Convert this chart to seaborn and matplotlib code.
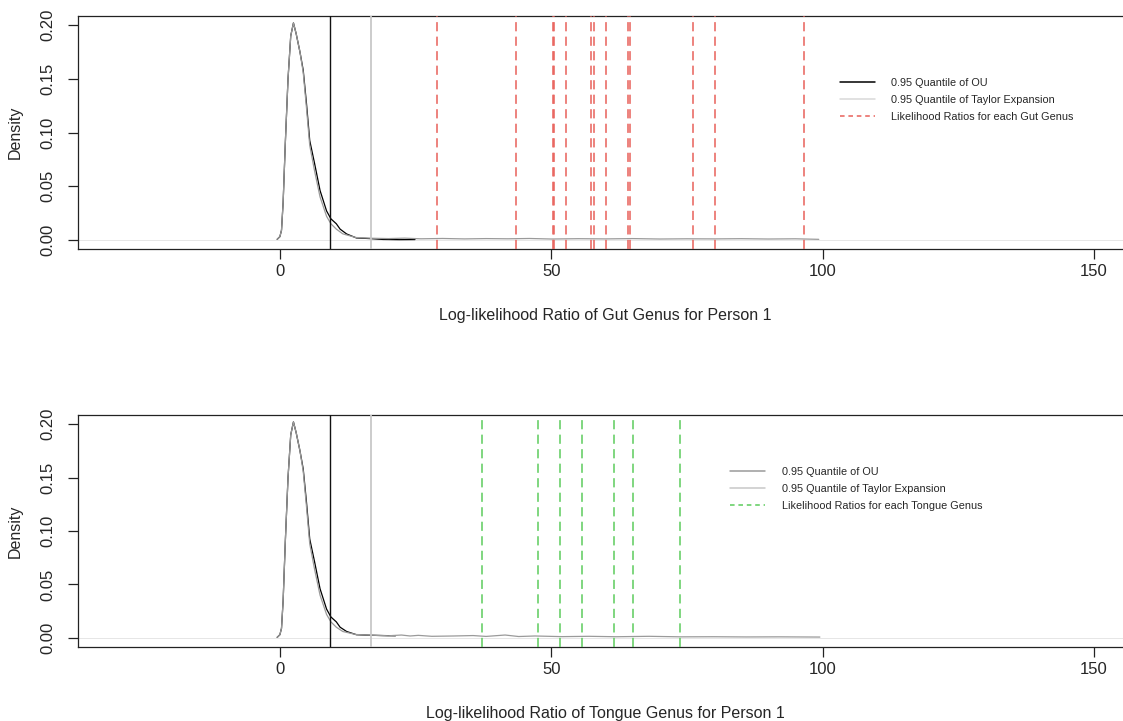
import matplotlib
matplotlib.use("Agg")
import matplotlib.pyplot as plt
import seaborn as sns
import pandas as pd
from matplotlib.lines import Line2D

sns.set_style("ticks")
plt.rcParams["font.family"] = ["Liberation Sans", "DejaVu Sans"]

# ---- density curves of the simulated log-likelihood ratio ----
# OU density (top panel)
ou_x_gut = [-0.5, 0.0, 0.3, 0.6, 1.0, 1.5, 2.0, 2.5, 3.0, 3.7, 4.3, 4.9, 5.5,
            6.4, 7.4, 8.6, 9.4, 10.4, 11.1, 12.3, 14.1, 16.6, 19.0, 22.0, 24.9]
ou_d_gut = [0.0005, 0.003, 0.009, 0.035, 0.090, 0.150, 0.190, 0.202, 0.192,
            0.175, 0.158, 0.127, 0.0925, 0.071, 0.046, 0.027, 0.0196, 0.015,
            0.010, 0.0055, 0.0018, 0.0012, 0.0004, 0.0002, 0.0003]
# Taylor-expansion density (top panel)
ty_x_gut = [-0.5, 0.0, 0.3, 0.6, 1.0, 1.5, 2.0, 2.5, 3.0, 3.7, 4.3, 4.9, 5.5,
            6.4, 7.4, 8.6, 9.4, 10.4, 11.6, 14.0, 17.0, 20.0, 23.0, 26.0,
            30.0, 34.0, 38.0, 42.0, 46.0, 50.0, 55.0, 60.0, 65.0, 70.0, 75.0,
            80.0, 85.0, 90.0, 95.0, 99.3]
ty_d_gut = [0.0005, 0.003, 0.009, 0.035, 0.090, 0.150, 0.190, 0.202, 0.192,
            0.175, 0.156, 0.123, 0.088, 0.064, 0.040, 0.022, 0.015, 0.010,
            0.0056, 0.0022, 0.0015, 0.0012, 0.0016, 0.0010, 0.0013, 0.0009,
            0.0012, 0.0010, 0.0013, 0.0008, 0.0011, 0.0009, 0.0012, 0.0008,
            0.0010, 0.0009, 0.0011, 0.0008, 0.0010, 0.0005]

# OU density (bottom panel)
ou_x_tng = [-0.5, 0.0, 0.3, 0.6, 1.0, 1.5, 2.0, 2.5, 3.0, 3.7, 4.3, 4.9, 5.5,
            6.4, 7.4, 8.6, 9.4, 10.4, 11.1, 12.3, 14.1, 16.6, 19.0, 21.3]
ou_d_tng = [0.0005, 0.003, 0.009, 0.035, 0.090, 0.150, 0.190, 0.202, 0.192,
            0.175, 0.158, 0.127, 0.0925, 0.071, 0.046, 0.027, 0.0196, 0.015,
            0.010, 0.0060, 0.0030, 0.0025, 0.0022, 0.0020]
# Taylor-expansion density (bottom panel)
ty_x_tng = [-0.5, 0.0, 0.3, 0.6, 1.0, 1.5, 2.0, 2.5, 3.0, 3.7, 4.3, 4.9, 5.5,
            6.4, 7.4, 8.6, 9.4, 10.4, 11.6, 14.0, 17.0, 20.0, 22.4, 24.0,
            25.5, 28.0, 32.0, 35.6, 38.0, 41.5, 44.0, 47.0, 52.0, 57.0, 62.0,
            68.0, 74.0, 80.0, 86.0, 92.0, 99.5]
ty_d_tng = [0.0005, 0.003, 0.009, 0.035, 0.090, 0.150, 0.190, 0.202, 0.192,
            0.175, 0.156, 0.123, 0.088, 0.064, 0.040, 0.022, 0.015, 0.010,
            0.0060, 0.0032, 0.0025, 0.0020, 0.0027, 0.0018, 0.0024, 0.0015,
            0.0018, 0.0022, 0.0014, 0.0027, 0.0013, 0.0018, 0.0012, 0.0015,
            0.0011, 0.0015, 0.0010, 0.0011, 0.0009, 0.0010, 0.0008]

# ---- quantiles and observed likelihood ratios ----
ou_quantile = 9.2
taylor_quantile = 16.8
gut_ratios = [28.9, 43.5, 50.3, 50.6, 52.7, 57.3, 57.8, 60.0, 64.1, 64.6,
              76.1, 80.1, 96.5]
tongue_ratios = [37.3, 47.6, 51.7, 55.6, 61.6, 65.1, 73.7]

x_ticks = [0, 50, 100, 150]
y_ticks = [0.00, 0.05, 0.10, 0.15, 0.20]
y_tick_labels = ["0.00", "0.05", "0.10", "0.15", "0.20"]

W, H = 1123, 721
fig = plt.figure(figsize=(W / 100, H / 100), dpi=100)


def axes_px(left, top, right, bottom):
    return fig.add_axes([left / W, 1 - bottom / H, (right - left) / W,
                         (bottom - top) / H])


def draw_panel(ax, ou_x, ou_d, ty_x, ty_d, ratios, ratio_color, xlabel,
               legend_labels, legend_colors, legend_anchor, textpad):
    ax.axhline(0, color="#e2e2e2", lw=0.6, zorder=1)
    sns.lineplot(data=pd.DataFrame({"x": ty_x, "d": ty_d}), x="x", y="d",
                 ax=ax, color="#9a9a9a", lw=0.9, sort=False, estimator=None,
                 zorder=3)
    sns.lineplot(data=pd.DataFrame({"x": ou_x, "d": ou_d}), x="x", y="d",
                 ax=ax, color="black", lw=0.9, sort=False, estimator=None,
                 zorder=2)
    ax.axvline(ou_quantile, color="#111111", lw=1.0, zorder=4)
    ax.axvline(taylor_quantile, color="#c8c8c8", lw=1.3, zorder=4)
    for r in ratios:
        ax.axvline(r, color=ratio_color, lw=1.1, ls=(0, (6, 3.5)), zorder=4)

    ax.set_xlim(-37.2, 157.2)
    ax.set_ylim(-0.0085, 0.2085)
    ax.set_xticks(x_ticks)
    ax.set_xticklabels([str(t) for t in x_ticks], fontsize=12)
    ax.set_yticks(y_ticks)
    ax.set_yticklabels(y_tick_labels, fontsize=12, rotation=90, va="center")
    ax.tick_params(axis="x", direction="out", length=7, width=0.9,
                   color="#222222", pad=4)
    ax.tick_params(axis="y", direction="out", length=7, width=0.9,
                   color="#222222", pad=9)
    ax.set_xlabel(xlabel, fontsize=11.5, labelpad=21)
    ax.set_ylabel("Density", fontsize=11.5, labelpad=13)
    for s in ax.spines.values():
        s.set_visible(True)
        s.set_color("#222222")
        s.set_linewidth(0.9)

    handles = [
        Line2D([], [], color=legend_colors[0], lw=1.1),
        Line2D([], [], color=legend_colors[1], lw=1.1),
        Line2D([], [], color=ratio_color, lw=1.1, ls=(0, (3, 2.5))),
    ]
    ax.legend(handles, legend_labels, loc="upper left",
              bbox_to_anchor=(legend_anchor[0] / W, 1 - legend_anchor[1] / H),
              bbox_transform=fig.transFigure, frameon=False, fontsize=7.8,
              handlelength=3.2, handletextpad=textpad, labelspacing=0.65,
              borderpad=0, borderaxespad=0)


ax1 = axes_px(78, 16, 1133, 249)
draw_panel(ax1, ou_x_gut, ou_d_gut, ty_x_gut, ty_d_gut, gut_ratios, "#e8605a",
           "Log-likelihood Ratio of Gut Genus for Person 1",
           ["0.95 Quantile of OU", "0.95 Quantile of Taylor Expansion",
            "Likelihood Ratios for each Gut Genus"],
           ["black", "#d8d8d8"], (840, 78), 1.5)

ax2 = axes_px(78, 415, 1133, 647)
draw_panel(ax2, ou_x_tng, ou_d_tng, ty_x_tng, ty_d_tng, tongue_ratios,
           "#5ccc5c",
           "Log-likelihood Ratio of Tongue Genus for Person 1",
           ["0.95 Quantile of OU", "0.95 Quantile of Taylor Expansion",
            "Likelihood Ratios for each Tongue Genus"],
           ["#9a9a9a", "#c8c8c8"], (730, 467), 1.6)

fig.savefig("out.png", dpi=100)
